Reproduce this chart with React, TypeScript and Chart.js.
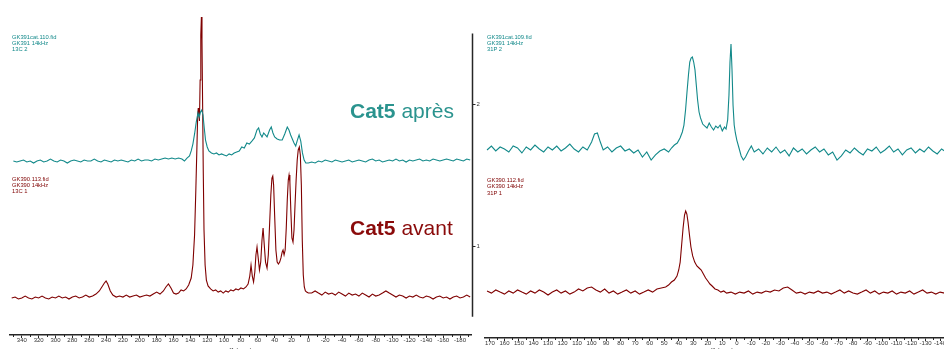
import React, { useEffect, useRef } from "react";
import { Chart, registerables } from "chart.js";

Chart.register(...registerables);

const TEAL = "#12898a";
const RED = "#7f0000";
const AXIS = "#262626";
const TICK_TEXT = "#333333";

// ---------- 13C panel (left) ----------
const c13AfterPpm = [
  350, 346, 342, 338, 334, 330, 326, 322, 318, 314,
  310, 306, 302, 298, 294, 290, 286, 282, 278, 274,
  270, 266, 262, 258, 254, 250, 246, 242, 238, 234,
  230, 226, 222, 218, 214, 210, 206, 202, 198, 194,
  190, 186, 182, 178, 174, 170, 166, 162, 158, 154,
  150, 147, 144, 141, 139, 137, 135, 133, 131, 129.5,
  128, 126.5, 125, 123.5, 122, 120, 118, 115, 112, 109,
  106, 103, 100, 97, 94, 91, 88, 85, 82, 79,
  76, 73, 70, 67, 64, 61, 59, 57, 55, 53,
  51, 49, 46, 44, 42, 40, 37, 34, 31, 28,
  25, 23, 21, 19, 17, 15, 13, 11, 9, 7,
  5, 3, 0, -4, -8, -12, -16, -20, -24, -28,
  -32, -36, -40, -44, -48, -52, -56, -60, -64, -68,
  -72, -76, -80, -84, -88, -92, -96, -100, -104, -108,
  -112, -116, -120, -124, -128, -132, -136, -140, -144, -148,
  -152, -156, -160, -164, -168, -172, -176, -180, -184, -188,
  -192,
];
const c13AfterInt = [
  1.600, 1.593, 1.600, 1.607, 1.593, 1.600, 1.586, 1.600, 1.607, 1.593,
  1.600, 1.614, 1.600, 1.593, 1.607, 1.600, 1.586, 1.600, 1.607, 1.600,
  1.593, 1.607, 1.600, 1.600, 1.614, 1.600, 1.593, 1.607, 1.600, 1.593,
  1.607, 1.600, 1.607, 1.600, 1.593, 1.607, 1.600, 1.614, 1.600, 1.607,
  1.607, 1.600, 1.614, 1.607, 1.614, 1.621, 1.614, 1.621, 1.614, 1.621,
  1.614, 1.600, 1.621, 1.636, 1.671, 1.720, 1.791, 1.875, 1.939, 1.911,
  1.946, 1.960, 1.925, 1.833, 1.748, 1.699, 1.671, 1.657, 1.650, 1.657,
  1.643, 1.650, 1.643, 1.636, 1.650, 1.643, 1.657, 1.664, 1.671, 1.699,
  1.692, 1.727, 1.720, 1.741, 1.763, 1.819, 1.833, 1.791, 1.770, 1.798,
  1.784, 1.770, 1.819, 1.840, 1.798, 1.770, 1.756, 1.748, 1.748, 1.791,
  1.840, 1.819, 1.784, 1.756, 1.727, 1.706, 1.748, 1.784, 1.741, 1.657,
  1.607, 1.586, 1.586, 1.593, 1.586, 1.600, 1.593, 1.607, 1.600, 1.593,
  1.607, 1.600, 1.593, 1.600, 1.607, 1.593, 1.600, 1.607, 1.600, 1.593,
  1.607, 1.614, 1.600, 1.607, 1.593, 1.600, 1.607, 1.600, 1.614, 1.600,
  1.607, 1.593, 1.607, 1.600, 1.607, 1.614, 1.600, 1.607, 1.600, 1.614,
  1.607, 1.600, 1.607, 1.614, 1.607, 1.600, 1.614, 1.607, 1.600, 1.614,
  1.607,
];

const c13BeforePpm = [
  352, 348, 344, 340, 336, 332, 328, 324, 320, 316,
  312, 308, 304, 300, 296, 292, 288, 284, 280, 276,
  272, 268, 264, 260, 256, 252, 248, 245, 242, 240,
  238, 235, 232, 228, 224, 220, 216, 212, 208, 204,
  200, 196, 192, 188, 184, 180, 176, 172, 169, 166,
  163, 160, 157, 154, 151, 148, 145, 142, 139, 137,
  135, 133.5, 132.3, 131.3, 130.6, 129.8, 129.2, 128.4, 127.6, 126.9,
  126.2, 125.5, 124.7, 123.8, 122.5, 121, 119, 116, 113, 110,
  107, 104, 101, 98, 95, 92, 89, 86, 83, 80,
  77, 74, 71.5, 69.5, 68, 66.5, 65, 63.5, 62.2, 60.9,
  59.5, 58, 56.5, 55, 53.7, 52.3, 50.8, 49, 47.5, 46,
  44.5, 43.2, 42.2, 41.2, 40, 38.5, 37, 35.5, 34, 32.5,
  31, 30, 28.8, 27.5, 26.2, 25, 23.8, 22.9, 21.9, 20.8,
  19.5, 18.2, 17, 15.8, 14.5, 13.2, 12, 10.7, 9.5, 8.3,
  7.2, 6, 4.8, 3.5, 2, 0, -4, -8, -12, -16,
  -20, -24, -28, -32, -36, -40, -44, -48, -52, -56,
  -60, -64, -68, -72, -76, -80, -84, -88, -92, -96,
  -100, -104, -108, -112, -116, -120, -124, -128, -132, -136,
  -140, -144, -148, -152, -156, -160, -164, -168, -172, -176,
  -180, -184, -188, -192,
];
const c13BeforeInt = [
  0.633, 0.640, 0.626, 0.633, 0.647, 0.633, 0.626, 0.640, 0.633, 0.647,
  0.633, 0.626, 0.640, 0.633, 0.647, 0.633, 0.640, 0.626, 0.640, 0.647,
  0.633, 0.640, 0.654, 0.640, 0.647, 0.661, 0.683, 0.711, 0.739, 0.753,
  0.732, 0.683, 0.654, 0.640, 0.647, 0.640, 0.654, 0.640, 0.647, 0.654,
  0.640, 0.647, 0.654, 0.647, 0.661, 0.675, 0.661, 0.683, 0.711, 0.732,
  0.704, 0.668, 0.661, 0.668, 0.690, 0.683, 0.697, 0.725, 0.774, 0.866,
  1.078, 1.396, 1.678, 1.925, 1.974, 1.925, 1.883, 2.172, 2.490, 2.617,
  2.454, 2.031, 1.537, 1.113, 0.866, 0.760, 0.718, 0.697, 0.683, 0.690,
  0.675, 0.683, 0.668, 0.683, 0.675, 0.690, 0.683, 0.697, 0.690, 0.704,
  0.697, 0.711, 0.732, 0.788, 0.866, 0.788, 0.746, 0.817, 0.937, 0.993,
  0.916, 0.831, 0.887, 1.043, 1.127, 1.007, 0.887, 0.845, 0.937, 1.148,
  1.360, 1.480, 1.494, 1.431, 1.219, 0.972, 0.887, 0.873, 0.887, 0.916,
  0.958, 0.972, 0.937, 0.972, 1.127, 1.325, 1.466, 1.501, 1.452, 1.254,
  1.057, 1.028, 1.113, 1.290, 1.466, 1.607, 1.678, 1.699, 1.643, 1.431,
  1.043, 0.796, 0.711, 0.683, 0.675, 0.668, 0.668, 0.683, 0.668, 0.654,
  0.675, 0.661, 0.668, 0.654, 0.675, 0.661, 0.647, 0.668, 0.654, 0.661,
  0.647, 0.668, 0.654, 0.640, 0.661, 0.647, 0.654, 0.668, 0.683, 0.668,
  0.654, 0.640, 0.654, 0.647, 0.633, 0.647, 0.640, 0.654, 0.640, 0.633,
  0.647, 0.640, 0.626, 0.640, 0.647, 0.633, 0.640, 0.626, 0.640, 0.647,
  0.633, 0.640, 0.654, 0.640,
];

// ---------- 31P panel (right) ----------
const p31AfterPpm = [
  172, 169, 166, 163, 160, 157, 154, 151, 148, 145,
  142, 139, 136, 133, 130, 127, 124, 121, 118, 115,
  112, 109, 106, 103, 100, 98, 96, 94, 92, 89,
  86, 83, 80, 77, 74, 71, 68, 65, 62, 59,
  56, 53, 50, 47, 45, 43, 41, 39.1, 37.5, 36.4,
  35.3, 34.3, 33.3, 32.4, 31.5, 30.6, 29.7, 28.8, 27.9, 27,
  26, 25, 23.5, 22, 20.5, 19, 17.5, 16, 14.5, 13,
  11.5, 10, 8.5, 7.4, 6.3, 5.4, 4.7, 4, 3.3, 2.6,
  1.8, 1, 0, -1.5, -3, -4.5, -6, -8, -10, -12,
  -15, -18, -21, -24, -27, -30, -33, -36, -39, -42,
  -45, -48, -51, -54, -57, -60, -63, -66, -69, -72,
  -75, -78, -81, -84, -87, -90, -93, -96, -99, -102,
  -105, -108, -111, -114, -117, -120, -123, -126, -129, -132,
  -135, -138, -141, -144, -147, -150, -153,
];
const p31AfterInt = [
  1.678, 1.706, 1.671, 1.699, 1.685, 1.664, 1.706, 1.692, 1.657, 1.699,
  1.678, 1.713, 1.685, 1.664, 1.699, 1.678, 1.706, 1.671, 1.692, 1.720,
  1.685, 1.664, 1.699, 1.678, 1.734, 1.791, 1.798, 1.734, 1.678, 1.699,
  1.664, 1.692, 1.706, 1.671, 1.685, 1.657, 1.678, 1.628, 1.664, 1.607,
  1.643, 1.671, 1.685, 1.664, 1.692, 1.713, 1.727, 1.763, 1.805, 1.854,
  1.960, 2.087, 2.207, 2.299, 2.327, 2.334, 2.299, 2.243, 2.137, 2.031,
  1.946, 1.904, 1.861, 1.847, 1.833, 1.868, 1.840, 1.819, 1.847, 1.833,
  1.854, 1.812, 1.840, 1.826, 1.890, 2.066, 2.299, 2.426, 2.243, 1.995,
  1.854, 1.798, 1.748, 1.692, 1.636, 1.607, 1.628, 1.671, 1.706, 1.664,
  1.685, 1.650, 1.692, 1.664, 1.699, 1.657, 1.678, 1.636, 1.692, 1.664,
  1.685, 1.650, 1.678, 1.699, 1.664, 1.685, 1.643, 1.664, 1.607, 1.636,
  1.678, 1.657, 1.692, 1.664, 1.643, 1.685, 1.671, 1.699, 1.657, 1.678,
  1.706, 1.664, 1.685, 1.643, 1.678, 1.692, 1.657, 1.685, 1.664, 1.699,
  1.671, 1.650, 1.685, 1.664, 1.678, 1.692, 1.671,
];

const p31BeforePpm = [
  172, 169, 166, 163, 160, 157, 154, 151, 148, 145,
  142, 139, 136, 133, 130, 127, 124, 121, 118, 115,
  112, 109, 106, 103, 100, 97, 94, 91, 88, 85,
  82, 79, 76, 73, 70, 67, 64, 61, 58, 55,
  52, 49, 47, 45, 43, 41.2, 40, 39, 38, 37,
  36, 35.2, 34.4, 33.6, 32.6, 31.6, 30.4, 29, 27.5, 26,
  24.5, 23, 21.5, 20, 18.5, 17, 15, 13, 11, 9,
  7, 4, 1, -2, -5, -8, -11, -14, -17, -20,
  -23, -26, -29, -32, -35, -38, -41, -44, -47, -50,
  -53, -56, -59, -62, -65, -68, -71, -74, -77, -80,
  -83, -86, -89, -92, -95, -98, -101, -104, -107, -110,
  -113, -116, -119, -122, -125, -128, -131, -134, -137, -140,
  -143, -146, -149, -152,
];
const p31BeforeInt = [
  0.683, 0.668, 0.690, 0.675, 0.661, 0.683, 0.668, 0.690, 0.675, 0.661,
  0.683, 0.668, 0.690, 0.675, 0.654, 0.675, 0.690, 0.668, 0.683, 0.661,
  0.675, 0.697, 0.683, 0.704, 0.711, 0.690, 0.675, 0.697, 0.668, 0.683,
  0.661, 0.675, 0.690, 0.668, 0.683, 0.661, 0.675, 0.690, 0.675, 0.697,
  0.704, 0.711, 0.725, 0.746, 0.760, 0.788, 0.831, 0.887, 1.007, 1.127,
  1.219, 1.247, 1.226, 1.170, 1.078, 0.993, 0.930, 0.887, 0.859, 0.845,
  0.831, 0.803, 0.774, 0.753, 0.732, 0.718, 0.697, 0.690, 0.675, 0.683,
  0.668, 0.675, 0.661, 0.675, 0.668, 0.683, 0.661, 0.675, 0.668, 0.683,
  0.675, 0.690, 0.683, 0.704, 0.711, 0.690, 0.668, 0.675, 0.661, 0.675,
  0.668, 0.683, 0.668, 0.675, 0.661, 0.675, 0.690, 0.668, 0.683, 0.668,
  0.661, 0.675, 0.690, 0.668, 0.683, 0.661, 0.675, 0.668, 0.683, 0.661,
  0.675, 0.668, 0.683, 0.661, 0.675, 0.690, 0.668, 0.675, 0.661, 0.675,
  0.668, 0.683, 0.668, 0.675,
];

// ---------- ticks ----------
const c13Ticks = [340, 320, 300, 280, 260, 240, 220, 200, 180, 160, 140, 120, 100, 80, 60, 40, 20, 0, -20, -40, -60, -80, -100, -120, -140, -160, -180];
const c13MinorTicks = [350, 330, 310, 290, 270, 250, 230, 210, 190, 170, 150, 130, 110, 90, 70, 50, 30, 10, -10, -30, -50, -70, -90, -110, -130, -150, -170, -190];
const p31Ticks = [170, 160, 150, 140, 130, 120, 110, 100, 90, 80, 70, 60, 50, 40, 30, 20, 10, 0, -10, -20, -30, -40, -50, -60, -70, -80, -90, -100, -110, -120, -130, -140, -150];
const p31MinorTicks = [165, 155, 145, 135, 125, 115, 105, 95, 85, 75, 65, 55, 45, 35, 25, 15, 5, -5, -15, -25, -35, -45, -55, -65, -75, -85, -95, -105, -115, -125, -135, -145];
const stackTicks = [1, 2];
const stackRange = [0.5, 2.5];

const TICK_FONT = { family: "Liberation Sans", size: 6, lineHeight: 1 };

function minorTicksPlugin(values: number[]) {
  return {
    id: "minorTicks",
    afterDraw(chart: any) {
      const { ctx } = chart;
      const xs = chart.scales.x;
      ctx.save();
      ctx.strokeStyle = AXIS;
      ctx.lineWidth = 1;
      values.forEach((v) => {
        const px = Math.round(xs.getPixelForValue(v)) + 0.5;
        ctx.beginPath();
        ctx.moveTo(px, xs.top);
        ctx.lineTo(px, xs.top + 2);
        ctx.stroke();
      });
      ctx.restore();
    },
  };
}

const stackAxisPlugin = {
  id: "stackAxis",
  afterDraw(chart: any) {
    const { ctx, chartArea } = chart;
    const ys = chart.scales.y;
    const x0 = chartArea.right + 1.5;
    ctx.save();
    ctx.strokeStyle = AXIS;
    ctx.lineWidth = 1.5;
    ctx.beginPath();
    ctx.moveTo(x0, ys.getPixelForValue(stackRange[1]));
    ctx.lineTo(x0, ys.getPixelForValue(stackRange[0]));
    ctx.stroke();
    ctx.lineWidth = 1;
    ctx.fillStyle = TICK_TEXT;
    ctx.font = '6px "Liberation Sans"';
    ctx.textBaseline = "middle";
    ctx.textAlign = "left";
    stackTicks.forEach((v) => {
      const py = Math.round(ys.getPixelForValue(v)) + 0.5;
      ctx.beginPath();
      ctx.moveTo(x0, py);
      ctx.lineTo(x0 + 3, py);
      ctx.stroke();
      ctx.fillText(String(v), x0 + 4, py);
    });
    ctx.restore();
  },
};

type Series = { ppm: number[]; int: number[]; color: string };
type PanelCfg = {
  series: Series[];
  xMin: number;
  xMax: number;
  yMin: number;
  yMax: number;
  ticks: number[];
  minor: number[];
  padding: { left: number; right: number; top: number; bottom: number };
  axisHeight: number;
  extraPlugins: any[];
};

function buildChart(canvas: HTMLCanvasElement, cfg: PanelCfg) {
  const datasets = cfg.series.map((s) => ({
    data: s.ppm.map((x, i) => ({ x, y: s.int[i] })),
    borderColor: s.color,
    borderWidth: 1.1,
    pointRadius: 0,
    tension: 0,
    fill: false,
  }));
  return new Chart(canvas, {
    type: "line",
    data: { datasets },
    options: {
      animation: false,
      responsive: false,
      maintainAspectRatio: false,
      devicePixelRatio: 1,
      events: [],
      layout: { padding: cfg.padding },
      plugins: {
        legend: { display: false },
        tooltip: { enabled: false },
        title: { display: false },
      },
      scales: {
        x: {
          type: "linear",
          reverse: true,
          min: cfg.xMin,
          max: cfg.xMax,
          afterBuildTicks: (s: any) => {
            s.ticks = cfg.ticks.map((v) => ({ value: v }));
          },
          afterFit: (s: any) => {
            s.height = cfg.axisHeight;
          },
          ticks: {
            autoSkip: false,
            maxRotation: 0,
            minRotation: 0,
            padding: -1,
            color: TICK_TEXT,
            font: TICK_FONT,
            callback: (v: any) => String(v),
          },
          grid: {
            drawOnChartArea: false,
            drawTicks: true,
            tickLength: 3,
            color: AXIS,
            lineWidth: 1,
          },
          border: { display: true, color: AXIS, width: 1.5 },
          title: {
            display: true,
            text: "f1 (ppm)",
            color: TICK_TEXT,
            font: TICK_FONT,
            padding: { top: 0, bottom: 7 },
          },
        },
        y: { display: false, min: cfg.yMin, max: cfg.yMax },
      },
    } as any,
    plugins: [minorTicksPlugin(cfg.minor), ...cfg.extraPlugins],
  });
}

const smallLabel = (color: string, left: number, top: number, lines: string[]) => (
  <div
    style={{
      position: "absolute",
      left,
      top,
      color,
      fontFamily: '"Liberation Sans", Arial, sans-serif',
      fontSize: "5.8px",
      lineHeight: "6.4px",
      whiteSpace: "pre",
    }}
  >
    {lines.map((l, i) => (
      <div key={i}>{l}</div>
    ))}
  </div>
);

export default function App() {
  const leftRef = useRef<HTMLCanvasElement>(null);
  const rightRef = useRef<HTMLCanvasElement>(null);

  useEffect(() => {
    const left = buildChart(leftRef.current!, {
      series: [
        { ppm: c13AfterPpm, int: c13AfterInt, color: TEAL },
        { ppm: c13BeforePpm, int: c13BeforeInt, color: RED },
      ],
      xMin: -193,
      xMax: 354,
      yMin: 0.372,
      yMax: 2.666,
      ticks: c13Ticks,
      minor: c13MinorTicks,
      padding: { left: 10, right: 9, top: 10, bottom: 0 },
      axisHeight: 25,
      extraPlugins: [stackAxisPlugin],
    });
    const right = buildChart(rightRef.current!, {
      series: [
        { ppm: p31AfterPpm, int: p31AfterInt, color: TEAL },
        { ppm: p31BeforePpm, int: p31BeforeInt, color: RED },
      ],
      xMin: -153,
      xMax: 173.4,
      yMin: 0.351,
      yMax: 2.666,
      ticks: p31Ticks,
      minor: p31MinorTicks,
      padding: { left: 5, right: 11, top: 10, bottom: 0 },
      axisHeight: 22,
      extraPlugins: [],
    });
    return () => {
      left.destroy();
      right.destroy();
    };
  }, []);

  const bigText = (color: string, left: number, top: number, bold: string, rest: string) => (
    <div
      style={{
        position: "absolute",
        left,
        top,
        color,
        fontFamily: '"Liberation Sans", Arial, sans-serif',
        fontSize: "21px",
        lineHeight: "21px",
        whiteSpace: "pre",
      }}
    >
      <span style={{ fontWeight: 700 }}>{bold}</span>
      <span> {rest}</span>
    </div>
  );

  return (
    <div
      style={{
        position: "fixed",
        left: 0,
        top: 0,
        width: 944,
        height: 349,
        overflow: "hidden",
        background: "#ffffff",
      }}
    >
      <canvas
        ref={leftRef}
        width={480}
        height={360}
        style={{ position: "absolute", left: 0, top: 0, width: 480, height: 360 }}
      />
      <canvas
        ref={rightRef}
        width={490}
        height={360}
        style={{ position: "absolute", left: 480, top: 0, width: 490, height: 360 }}
      />
      {smallLabel(TEAL, 12, 33.5, ["GK391cat.110.fid", "GK391 14kHz", "13C 2"])}
      {smallLabel(RED, 12, 175.5, ["GK390.113.fid", "GK390 14kHz", "13C 1"])}
      {smallLabel(TEAL, 487, 33.5, ["GK391cat.109.fid", "GK391 14kHz", "31P 2"])}
      {smallLabel(RED, 487, 177, ["GK390.112.fid", "GK390 14kHz", "31P 1"])}
      {bigText("#2a938e", 350, 100, "Cat5", "après")}
      {bigText("#8a0a0a", 350, 217, "Cat5", "avant")}
    </div>
  );
}
